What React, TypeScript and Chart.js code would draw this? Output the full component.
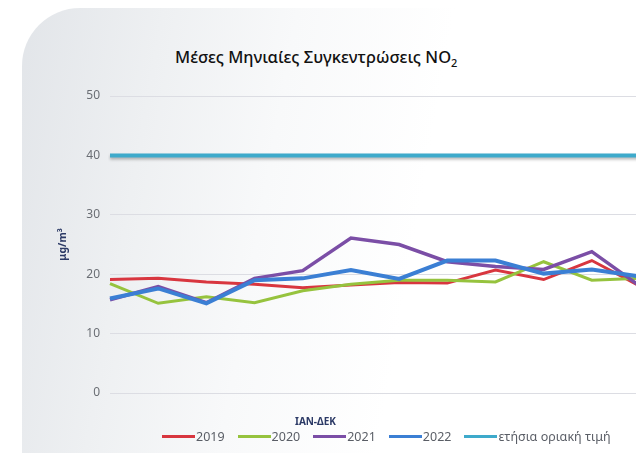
import React, { useEffect, useRef } from "react";
import { Chart, registerables } from "chart.js";

Chart.register(...registerables);

const months = ["Ιαν", "Φεβ", "Μαρ", "Απρ", "Μαϊ", "Ιουν", "Ιουλ", "Αυγ", "Σεπ", "Οκτ", "Νοε", "Δεκ"];
const y2019 = [19.1, 19.3, 18.7, 18.3, 17.7, 18.2, 18.6, 18.5, 20.7, 19.1, 22.3, 18.0];
const y2020 = [18.4, 15.1, 16.2, 15.2, 17.2, 18.3, 19.0, 19.0, 18.7, 22.1, 19.0, 19.3];
const y2021 = [15.7, 17.9, 15.2, 19.3, 20.6, 26.1, 25.0, 22.1, 21.3, 20.8, 23.8, 18.0];
const y2022 = [15.9, 17.6, 15.1, 19.0, 19.3, 20.7, 19.2, 22.3, 22.3, 20.1, 20.8, 19.6];
const limit = [40, 40, 40, 40, 40, 40, 40, 40, 40, 40, 40, 40];
const yTicks = [0, 10, 20, 30, 40, 50];

const seriesNames = ["2019", "2020", "2021", "2022", "ετήσια οριακή τιμή"];
const seriesColors = ["#d8363f", "#96c33e", "#7b4ea6", "#3b7fd4", "#3eaacb"];

const shadowPlugin = {
  id: "limitShadow",
  beforeDatasetDraw(chart: any, args: any) {
    if (args.index === 4) {
      const ctx = chart.ctx;
      ctx.save();
      ctx.shadowColor = "rgba(0,0,0,0.28)";
      ctx.shadowBlur = 3;
      ctx.shadowOffsetY = 2;
    }
  },
  afterDatasetDraw(chart: any, args: any) {
    if (args.index === 4) chart.ctx.restore();
  },
};

export default function App() {
  const ref = useRef<HTMLCanvasElement | null>(null);

  useEffect(() => {
    if (!ref.current) return;
    const values = [y2019, y2020, y2021, y2022, limit];
    const widths = [3, 3, 3.5, 4, 4];
    const orders = [4, 3, 2, 1, 0];
    const chart = new Chart(ref.current, {
      type: "line",
      data: {
        labels: months,
        datasets: values.map((v, i) => ({
          label: seriesNames[i],
          data: v,
          borderColor: seriesColors[i],
          backgroundColor: seriesColors[i],
          borderWidth: widths[i],
          pointRadius: 0,
          tension: 0,
          order: orders[i],
        })),
      },
      plugins: [shadowPlugin],
      options: {
        animation: false,
        responsive: false,
        maintainAspectRatio: false,
        layout: { padding: { left: 57, right: 40, top: 96, bottom: 60 } },
        plugins: {
          legend: { display: false },
          title: { display: false },
          tooltip: { enabled: false },
        },
        scales: {
          x: {
            display: false,
            offset: false,
          },
          y: {
            min: 0,
            max: 50,
            afterBuildTicks: (s: any) => {
              s.ticks = yTicks.map((v) => ({ value: v }));
            },
            afterFit: (s: any) => {
              s.width = 53;
            },
            grid: { color: "#dcdde3", drawTicks: false, lineWidth: 1 },
            border: { display: false },
            ticks: {
              padding: 10,
              color: "#6a6e74",
              font: { family: "'Noto Sans', sans-serif", size: 12 },
            },
            title: {
              display: true,
              text: "μg/m³",
              color: "#2c3a66",
              font: { family: "'Noto Sans', sans-serif", size: 10.5, weight: "bold" },
              padding: { top: 0, bottom: 0 },
            },
          },
        },
      },
    });
    return () => chart.destroy();
  }, []);

  return (
    <div
      style={{
        position: "fixed",
        left: 0,
        top: 0,
        width: 636,
        height: 453,
        overflow: "hidden",
        background: "#ffffff",
      }}
    >
      <div
        style={{
          position: "absolute",
          left: 22,
          top: 8,
          width: 700,
          height: 500,
          borderTopLeftRadius: 58,
          background:
            "linear-gradient(100deg, #e2e5e9 0%, #eef0f2 18%, #f8f9fa 35%, #ffffff 55%)",
        }}
      />
      <div
        style={{
          position: "absolute",
          left: 175,
          top: 45,
          fontFamily: "'Noto Sans', sans-serif",
          fontSize: 16.5,
          fontWeight: 500,
          color: "#111111",
          whiteSpace: "nowrap",
        }}
      >
        Μέσες Μηνιαίες Συγκεντρώσεις NO<sub style={{ fontSize: 11 }}>2</sub>
      </div>
      <canvas
        ref={ref}
        width={680}
        height={453}
        style={{ position: "absolute", left: 0, top: 0, width: 680, height: 453 }}
      />
      <div
        style={{
          position: "absolute",
          left: 295,
          top: 414,
          fontFamily: "'Noto Sans', sans-serif",
          fontSize: 10,
          fontWeight: 700,
          color: "#2c3a66",
          whiteSpace: "nowrap",
        }}
      >
        ΙΑΝ-ΔΕΚ
      </div>
      <div
        style={{
          position: "absolute",
          left: 162,
          top: 428,
          display: "flex",
          alignItems: "center",
          fontFamily: "'Noto Sans', sans-serif",
          fontSize: 12.5,
          color: "#5a5e66",
          whiteSpace: "nowrap",
        }}
      >
        {seriesNames.map((n, i) => (
          <div key={n} style={{ display: "flex", alignItems: "center", marginRight: 13 }}>
            <span
              style={{
                display: "inline-block",
                width: 33,
                height: 3,
                background: seriesColors[i],
                marginRight: 1,
              }}
            />
            <span>{n}</span>
          </div>
        ))}
      </div>
    </div>
  );
}
